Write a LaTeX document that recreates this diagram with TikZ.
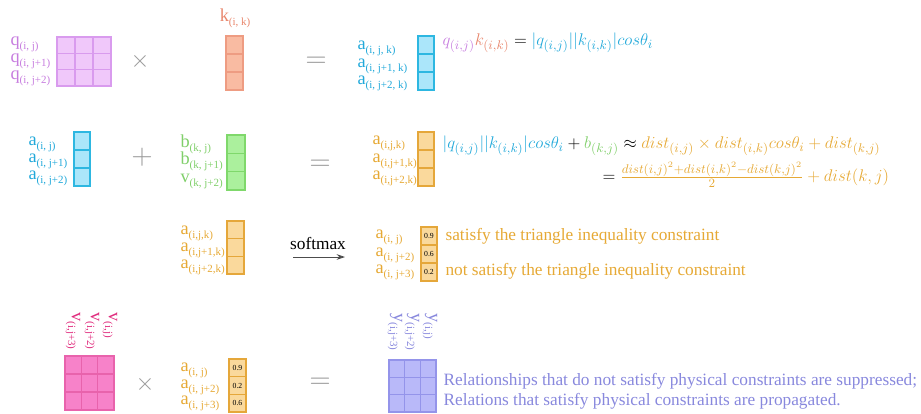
\documentclass[tikz,border=0pt]{standalone}
\usepackage{fontspec,amsmath}
\setmainfont{Liberation Serif}
\usetikzlibrary{arrows.meta}
\definecolor{qtxt}{HTML}{C77DDF}\definecolor{qfill}{HTML}{F0C8FA}\definecolor{qline}{HTML}{D99BEE}
\definecolor{ktxt}{HTML}{E8866C}\definecolor{kfill}{HTML}{F9BBA2}\definecolor{kline}{HTML}{EE9C82}
\definecolor{atxt}{HTML}{22A9DA}\definecolor{afill}{HTML}{ABE6FA}\definecolor{aline}{HTML}{2DB7E1}
\definecolor{btxt}{HTML}{80CF6A}\definecolor{bfill}{HTML}{ABF09D}\definecolor{bline}{HTML}{7FD86B}
\definecolor{otxt}{HTML}{E6A935}\definecolor{ofill}{HTML}{FAD99C}\definecolor{oline}{HTML}{E5A73A}
\definecolor{vtxt}{HTML}{E02D7E}\definecolor{vfill}{HTML}{F782C9}\definecolor{vline}{HTML}{E863AC}
\definecolor{ytxt}{HTML}{8888DD}\definecolor{yfill}{HTML}{B9B9F9}\definecolor{yline}{HTML}{9494EA}
\newcommand{\lbl}[2]{#1\raisebox{-.45ex}{\fontsize{7.8}{8}\selectfont#2}}
\begin{document}
\begin{tikzpicture}[x=.25mm,y=-.25mm,line width=.8pt,
  lab/.style={anchor=west,inner sep=0pt,text height=7.5pt,text depth=3.5pt,font=\fontsize{13}{13}\selectfont},
  vlab/.style={anchor=west,inner sep=0pt,rotate=-90,font=\fontsize{13}{13}\selectfont},
  op/.style={inner sep=0pt,text=gray!80,font=\fontsize{22}{22}\selectfont},
  txt/.style={anchor=west,inner sep=0pt,font=\fontsize{12.3}{14}\selectfont},
  eq/.style={anchor=west,inner sep=0pt,font=\fontsize{13}{15}\selectfont},
  val/.style={inner sep=0pt,font=\fontsize{5.5}{6}\selectfont}]
\path[use as bounding box] (0,0) rectangle (921,413);
% row 1: q x k = a
\node[lab,text=qtxt] (q1) at (10,43) {\lbl{q}{(i, j)}};
\node[lab,text=qtxt] (q2) at (10,60) {\lbl{q}{(i, j+1)}};
\node[lab,text=qtxt] (q3) at (10,77) {\lbl{q}{(i, j+2)}};
\draw[qline,fill=qfill] (57,37) rectangle (111,86);
\draw[qline] (75,37) -- (75,86);
\draw[qline] (93,37) -- (93,86);
\draw[qline] (57,53.3) -- (111,53.3);
\draw[qline] (57,69.7) -- (111,69.7);
\node[op,font=\fontsize{16}{16}\selectfont] (times1) at (140,61) {$\times$};
\node[inner sep=0pt,text=ktxt,font=\fontsize{13}{13}\selectfont] (k) at (235,18) {\lbl{k}{(i, k)}};
\draw[kline,fill=kfill] (226,36) rectangle (243,90);
\draw[kline] (226,54) -- (243,54);
\draw[kline] (226,72) -- (243,72);
\node[op] (eq1) at (316,62) {$=$};
\node[lab,text=atxt] (a1) at (357,47) {\lbl{a}{(i, j, k)}};
\node[lab,text=atxt] (a2) at (357,65) {\lbl{a}{(i, j+1, k)}};
\node[lab,text=atxt] (a3) at (357,82) {\lbl{a}{(i, j+2, k)}};
\draw[aline,fill=afill] (418,36) rectangle (434,90);
\draw[aline] (418,54) -- (434,54);
\draw[aline] (418,72) -- (434,72);
\node[eq] (dot) at (442,43) {$\color{qtxt}q_{(i,j)}\color{ktxt}k_{(i,k)}\color{black}=\color{atxt}|q_{(i,j)}||k_{(i,k)}|cos\theta_i$};
% row 2: a + b = a
\node[lab,text=atxt] (ai1) at (28,143) {\lbl{a}{(i, j)}};
\node[lab,text=atxt] (ai2) at (28,160) {\lbl{a}{(i, j+1)}};
\node[lab,text=atxt] (ai3) at (28,177) {\lbl{a}{(i, j+2)}};
\draw[aline,fill=afill] (74,132) rectangle (90,186);
\draw[aline] (74,150) -- (90,150);
\draw[aline] (74,168) -- (90,168);
\node[op] (plus) at (142,157) {$+$};
\node[lab,text=btxt] (b1) at (180,145) {\lbl{b}{(k, j)}};
\node[lab,text=btxt] (b2) at (180,162) {\lbl{b}{(k, j+1)}};
\node[lab,text=btxt] (b3) at (180,180) {\lbl{v}{(k, j+2)}};
\draw[bline,fill=bfill] (227,135) rectangle (245,190);
\draw[bline] (227,153.3) -- (245,153.3);
\draw[bline] (227,171.7) -- (245,171.7);
\node[op] (eq2) at (320,165) {$=$};
\node[lab,text=otxt] (o1) at (372,142) {\lbl{a}{(i,j,k)}};
\node[lab,text=otxt] (o2) at (372,160) {\lbl{a}{(i,j+1,k)}};
\node[lab,text=otxt] (o3) at (372,177) {\lbl{a}{(i,j+2,k)}};
\draw[oline,fill=ofill] (418,132) rectangle (434,186);
\draw[oline] (418,150) -- (434,150);
\draw[oline] (418,168) -- (434,168);
\node[eq] (sum) at (442,146) {$\color{atxt}|q_{(i,j)}||k_{(i,k)}|cos\theta_i\color{black}+\color{btxt}b_{(k,j)}\color{black}\approx\color{otxt}dist_{(i,j)}\times dist_{(i,k)}cos\theta_i+dist_{(k,j)}$};
\node[eq] (law) at (602,175) {$=\color{otxt}\frac{dist(i,j)^2+dist(i,k)^2-dist(k,j)^2}{2}+dist(k,j)$};
% row 3: softmax
\node[lab,text=otxt] (s1) at (180,232) {\lbl{a}{(i,j,k)}};
\node[lab,text=otxt] (s2) at (180,249) {\lbl{a}{(i,j+1,k)}};
\node[lab,text=otxt] (s3) at (180,266) {\lbl{a}{(i,j+2,k)}};
\draw[oline,fill=ofill] (227,221) rectangle (244,274);
\draw[oline] (227,238.7) -- (244,238.7);
\draw[oline] (227,256.3) -- (244,256.3);
\node[inner sep=0pt,font=\fontsize{12.3}{14}\selectfont] (softmax) at (318,243) {softmax};
\coordinate (smA) at (293,257);
\coordinate (smB) at (345,257);
\draw[gray!60!black,line width=.6pt,-{Stealth[length=6pt,width=4pt]}] (smA) -- (smB);
\node[lab,text=otxt] (p1) at (375,236) {\lbl{a}{(i, j)}};
\node[lab,text=otxt] (p2) at (375,254) {\lbl{a}{(i, j+2)}};
\node[lab,text=otxt] (p3) at (375,271) {\lbl{a}{(i, j+3)}};
\draw[oline,fill=ofill] (421,227) rectangle (437,281);
\draw[oline] (421,245) -- (437,245);
\draw[oline] (421,263) -- (437,263);
\node[val] (pv1) at (429,236) {0.9};
\node[val] (pv2) at (429,254) {0.6};
\node[val] (pv3) at (429,272) {0.2};
\node[txt,text=otxt] (sat) at (445,236) {satisfy the triangle inequality constraint};
\node[txt,text=otxt] (notsat) at (445,271) {not satisfy the triangle inequality constraint};
% row 4: v x a = y
\node[vlab,text=vtxt] (v3) at (73,312) {\lbl{v}{(i,j+3)}};
\node[vlab,text=vtxt] (v2) at (92,312) {\lbl{v}{(i,j+2)}};
\node[vlab,text=vtxt] (v1) at (110,312) {\lbl{v}{(i,j)}};
\draw[vline,fill=vfill] (65,356) rectangle (114,410);
\draw[vline] (81.3,356) -- (81.3,410);
\draw[vline] (97.7,356) -- (97.7,410);
\draw[vline] (65,374) -- (114,374);
\draw[vline] (65,392) -- (114,392);
\node[op,font=\fontsize{16}{16}\selectfont] (times2) at (145,384) {$\times$};
\node[lab,text=otxt] (w1) at (180,369) {\lbl{a}{(i, j)}};
\node[lab,text=otxt] (w2) at (180,385.5) {\lbl{a}{(i, j+2)}};
\node[lab,text=otxt] (w3) at (180,402) {\lbl{a}{(i, j+3)}};
\draw[oline,fill=ofill] (229,359) rectangle (246,412);
\draw[oline] (229,376.7) -- (246,376.7);
\draw[oline] (229,394.3) -- (246,394.3);
\node[val] (wv1) at (237.5,368) {0.9};
\node[val] (wv2) at (237.5,385.5) {0.2};
\node[val] (wv3) at (237.5,403) {0.6};
\node[op] (eq3) at (320,383) {$=$};
\node[vlab,text=ytxt] (y3) at (395,313) {\lbl{y}{(i,j+3)}};
\node[vlab,text=ytxt] (y2) at (412,313) {\lbl{y}{(i,j+2)}};
\node[vlab,text=ytxt] (y1) at (430,313) {\lbl{y}{(i,j)}};
\draw[yline,fill=yfill] (389,360) rectangle (436,412);
\draw[yline] (404.7,360) -- (404.7,412);
\draw[yline] (420.3,360) -- (420.3,412);
\draw[yline] (389,377.3) -- (436,377.3);
\draw[yline] (389,394.7) -- (436,394.7);
\node[txt,text=ytxt] (supp) at (443,381) {Relationships that do not satisfy physical constraints are suppressed;};
\node[txt,text=ytxt] (prop) at (443,401) {Relations that satisfy physical constraints are propagated.};
\end{tikzpicture}
\end{document}
